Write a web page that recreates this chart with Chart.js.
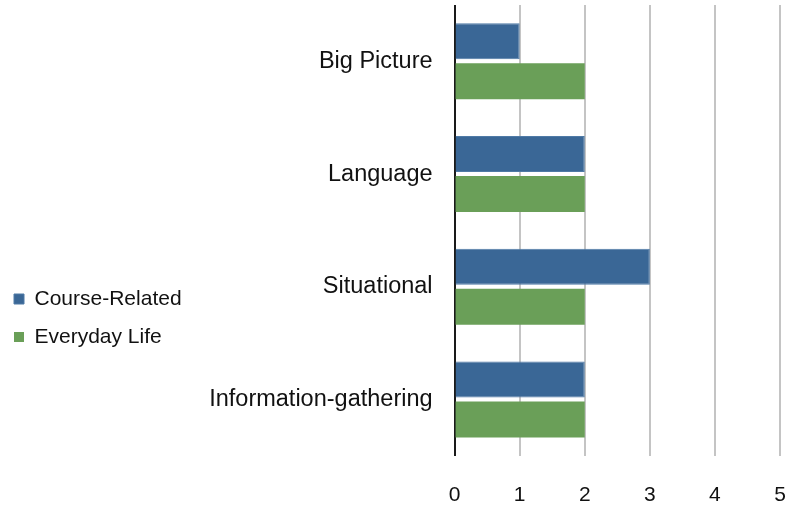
<!DOCTYPE html>
<html>
<head>
<meta charset="utf-8">
<script src="https://cdn.jsdelivr.net/npm/chart.js@4.4.1/dist/chart.umd.min.js"></script>
<style>
  html, body { margin: 0; padding: 0; background: #fff; }
  #wrap { width: 788px; height: 506px; position: relative; }
</style>
</head>
<body>
<div id="wrap"><canvas id="c"></canvas></div>
<script>
const categories = ["Big Picture", "Language", "Situational", "Information-gathering"];
const courseRelated = [1, 2, 3, 2];
const everydayLife = [2, 2, 2, 2];
const seriesNames = ["Course-Related", "Everyday Life"];
const xTicks = [0, 1, 2, 3, 4, 5];

const FONT = "'Liberation Sans', Arial, Helvetica, sans-serif";

new Chart(document.getElementById('c'), {
  type: 'bar',
  data: {
    labels: categories,
    datasets: [
      { label: seriesNames[0], data: courseRelated, backgroundColor: '#3a6796', borderColor: '#4f7aa6', borderWidth: 1 },
      { label: seriesNames[1], data: everydayLife, backgroundColor: '#6a9f58', borderColor: '#6a9f58', borderWidth: 0 }
    ]
  },
  options: {
    indexAxis: 'y',
    responsive: true,
    maintainAspectRatio: false,
    animation: false,
    layout: { padding: { left: -3, right: 8, top: 5, bottom: -2 } },
    datasets: { bar: { categoryPercentage: 0.71, barPercentage: 0.9 } },
    plugins: {
      tooltip: { enabled: false },
      legend: {
        position: 'left',
        align: 'center',
        title: { display: true, text: ' ', font: { size: 10 }, padding: { top: 0, bottom: 111 } },
        labels: {
          boxWidth: 10, boxHeight: 10, padding: 17,
          color: '#111',
          font: { family: FONT, size: 21 }
        }
      }
    },
    scales: {
      x: {
        min: 0, max: 5,
        afterBuildTicks: (s) => { s.ticks = xTicks.map(v => ({ value: v })); },
        grid: {
          color: (ctx) => ctx.tick && ctx.tick.value === 0 ? '#1a1a1a' : '#c4c4c4',
          lineWidth: 2,
          drawTicks: true,
          tickLength: 27,
          tickColor: 'rgba(0,0,0,0)'
        },
        border: { display: false },
        ticks: { color: '#111', font: { family: FONT, size: 21 }, padding: 0 }
      },
      y: {
        afterFit: (s) => { s.width = 263; s.paddingTop = 0; s.paddingBottom = 0; },
        grid: {
          display: true,
          color: 'rgba(0,0,0,0)',
          drawOnChartArea: false,
          drawTicks: true,
          tickLength: 22,
          tickColor: 'rgba(0,0,0,0)'
        },
        border: { display: false },
        ticks: { color: '#111', font: { family: FONT, size: 23.5 }, padding: 0 }
      }
    }
  }
});
</script>
</body>
</html>
